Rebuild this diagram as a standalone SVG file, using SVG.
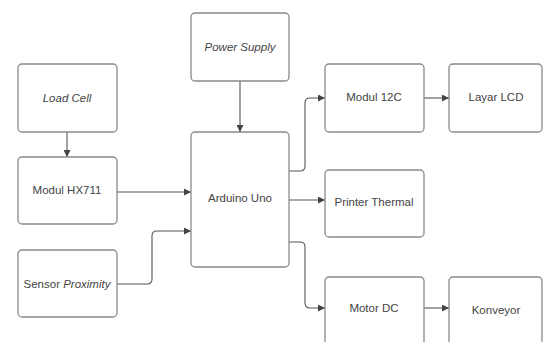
<svg xmlns="http://www.w3.org/2000/svg" width="543" height="342" viewBox="0 0 543 342">
<style>
.box{fill:#fff;stroke:#8a8a8a;stroke-width:1.3}
.t{font-family:"Liberation Sans",Arial,sans-serif;font-size:11.5px;fill:#444;text-anchor:middle;dominant-baseline:central}
.i{font-style:italic}
.c{fill:none;stroke:#555;stroke-width:1.1}
</style>
<defs>
<marker id="ah" viewBox="0 0 10 10" refX="10" refY="5" markerWidth="7" markerHeight="7" markerUnits="userSpaceOnUse" orient="auto">
<path d="M0,0 L10,5 L0,10 z" fill="#444"/>
</marker>
</defs>
<rect width="543" height="342" fill="#fff"/>
<g id="connectors">
<path class="c" d="M67,132 V157" marker-end="url(#ah)"/>
<path class="c" d="M240,81 V132" marker-end="url(#ah)"/>
<path class="c" d="M117,192 H191" marker-end="url(#ah)"/>
<path class="c" d="M117,284 H147 Q152,284 152,279 V236 Q152,231 157,231 H191" marker-end="url(#ah)"/>
<path class="c" d="M289,171 H300 Q305,171 305,166 V103 Q305,98 310,98 H325" marker-end="url(#ah)"/>
<path class="c" d="M289,200 H325" marker-end="url(#ah)"/>
<path class="c" d="M289,242 H300 Q305,242 305,247 V303 Q305,308 310,308 H325" marker-end="url(#ah)"/>
<path class="c" d="M424,98 H449" marker-end="url(#ah)"/>
<path class="c" d="M424,308 H449" marker-end="url(#ah)"/>
</g>
<g id="power"><rect class="box" x="191" y="13" width="98" height="68" rx="4"/><text class="t i" x="240" y="47">Power Supply</text></g>
<g id="loadcell"><rect class="box" x="18" y="64" width="99" height="68" rx="4"/><text class="t i" x="67" y="98">Load Cell</text></g>
<g id="hx711"><rect class="box" x="18" y="157" width="99" height="67" rx="4"/><text class="t" x="67" y="190">Modul HX711</text></g>
<g id="sensor"><rect class="box" x="18" y="250" width="99" height="67" rx="4"/><text class="t" x="67" y="284">Sensor <tspan class="i">Proximity</tspan></text></g>
<g id="arduino"><rect class="box" x="191" y="132" width="98" height="135" rx="4"/><text class="t" x="240" y="198">Arduino Uno</text></g>
<g id="i2c"><rect class="box" x="325" y="64" width="99" height="68" rx="4"/><text class="t" x="374" y="97">Modul 12C</text></g>
<g id="lcd"><rect class="box" x="449" y="64" width="93" height="68" rx="4"/><text class="t" x="496" y="97">Layar LCD</text></g>
<g id="printer"><rect class="box" x="325" y="170" width="99" height="67" rx="4"/><text class="t" x="374" y="202">Printer Thermal</text></g>
<g id="motor"><rect class="box" x="325" y="277" width="99" height="68" rx="4"/><text class="t" x="374" y="308">Motor DC</text></g>
<g id="konveyor"><rect class="box" x="449" y="277" width="93" height="68" rx="4"/><text class="t" x="496" y="310">Konveyor</text></g>
</svg>
